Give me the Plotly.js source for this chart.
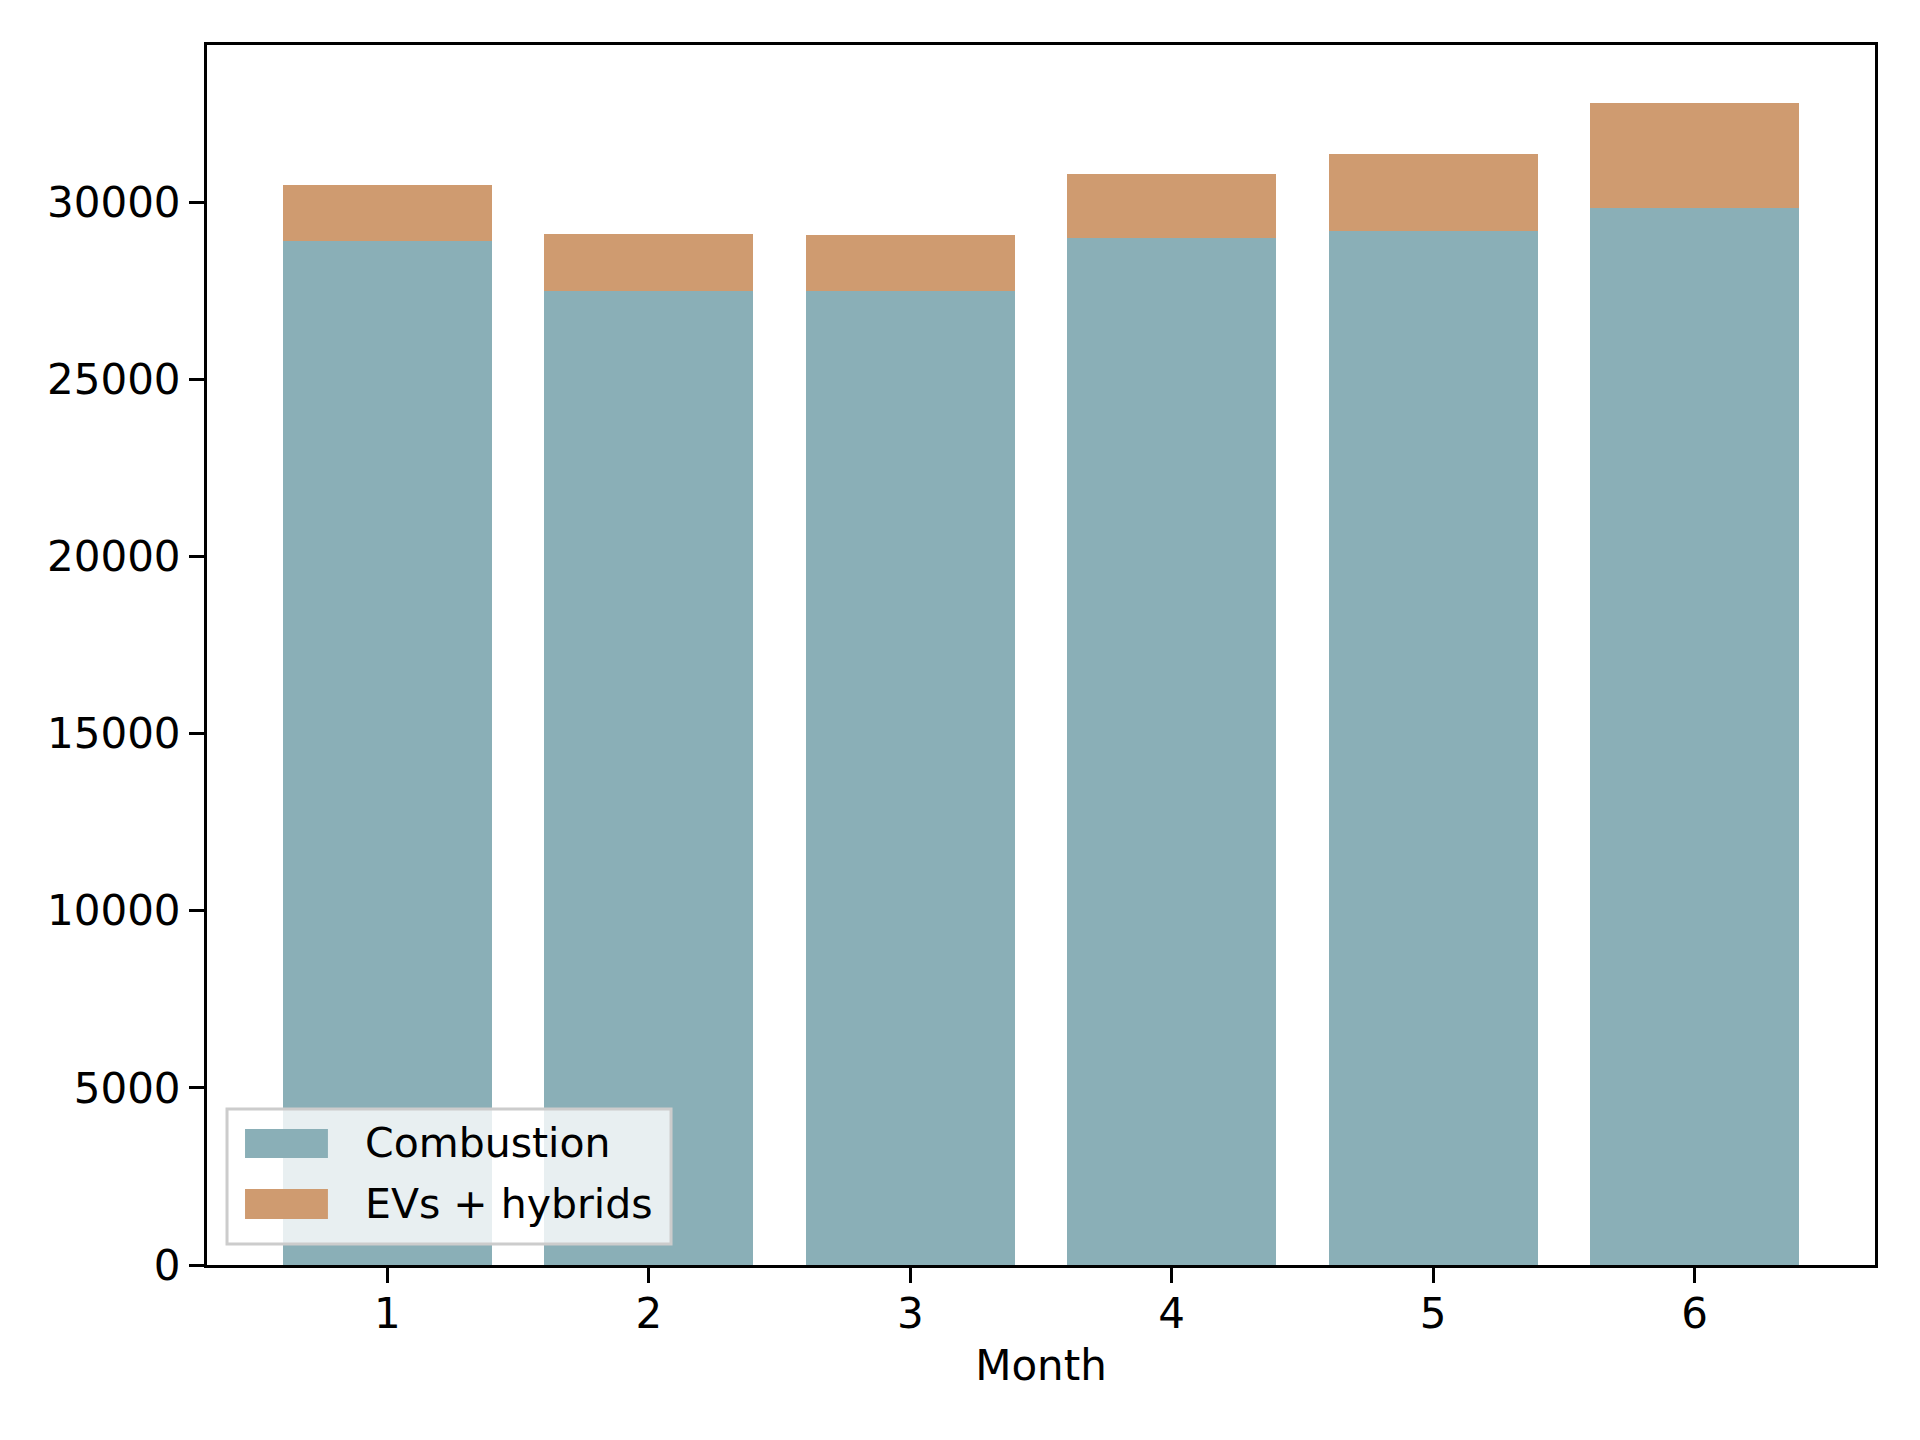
<!DOCTYPE html>
<html>
<head>
<meta charset="utf-8">
<script src="https://cdn.plot.ly/plotly-3.0.1.min.js"></script>
<style>html,body{margin:0;padding:0;background:#fff;}#chart{width:1920px;height:1440px;}</style>
</head>
<body>
<div id="chart"></div>
<script>
const months = [1, 2, 3, 4, 5, 6];
const combustion = [28900, 27500, 27500, 29000, 29200, 29850];
const evsHybrids = [1600, 1600, 1580, 1800, 2150, 2950];
const yTicks = [0, 5000, 10000, 15000, 20000, 25000, 30000];
const seriesNames = ['Combustion', 'EVs + hybrids'];
const seriesColors = ['#8aafb7', '#cf9b70'];

const font = {family: 'DejaVu Sans, sans-serif', size: 42, color: '#000'};

const traces = [
  {type: 'bar', name: seriesNames[0], x: months, y: combustion, width: 0.8,
   marker: {color: seriesColors[0], line: {width: 0}}},
  {type: 'bar', name: seriesNames[1], x: months, y: evsHybrids, width: 0.8,
   marker: {color: seriesColors[1], line: {width: 0}}}
];

// matplotlib-style legend drawn with shapes + annotations (paper coords)
const legendShapes = [
  {type: 'rect', xref: 'paper', yref: 'paper', x0: 0.012, x1: 0.2782, y0: 0.0172, y1: 0.1279,
   fillcolor: 'rgba(255,255,255,0.8)', line: {color: '#cccccc', width: 3}, layer: 'above'},
  {type: 'rect', xref: 'paper', yref: 'paper', x0: 0.0228, x1: 0.0725, y0: 0.0877, y1: 0.1115,
   fillcolor: seriesColors[0], line: {width: 0}, layer: 'above'},
  {type: 'rect', xref: 'paper', yref: 'paper', x0: 0.0228, x1: 0.0725, y0: 0.0377, y1: 0.0623,
   fillcolor: seriesColors[1], line: {width: 0}, layer: 'above'}
];
const legendAnnotations = [
  {xref: 'paper', yref: 'paper', x: 0.0935, y: 0.0996, xanchor: 'left', yanchor: 'middle',
   text: seriesNames[0], showarrow: false, font: {family: 'DejaVu Sans, sans-serif', size: 41, color: '#000'}},
  {xref: 'paper', yref: 'paper', x: 0.0935, y: 0.0500, xanchor: 'left', yanchor: 'middle',
   text: seriesNames[1], showarrow: false, font: {family: 'DejaVu Sans, sans-serif', size: 41, color: '#000'}}
];

const layout = {
  width: 1920, height: 1440,
  barmode: 'stack',
  paper_bgcolor: '#fff', plot_bgcolor: '#fff',
  font: font,
  margin: {l: 207, r: 45, t: 45, b: 175, pad: 0},
  showlegend: false,
  shapes: legendShapes,
  annotations: legendAnnotations,
  xaxis: {
    range: [0.31, 6.69], tickmode: 'array', tickvals: months, ticktext: months.map(String),
    showgrid: false, zeroline: false,
    showline: true, linecolor: '#000', linewidth: 3, mirror: true,
    ticks: 'outside', ticklen: 15, tickwidth: 3, tickcolor: '#000',
    tickfont: font, ticklabelstandoff: -5,
    title: {text: 'Month', font: font, standoff: 14}
  },
  yaxis: {
    range: [0, 34440], tickmode: 'array', tickvals: yTicks, ticktext: yTicks.map(String),
    showgrid: false, zeroline: false,
    showline: true, linecolor: '#000', linewidth: 3, mirror: true,
    ticks: 'outside', ticklen: 15, tickwidth: 3, tickcolor: '#000',
    tickfont: font
  }
};

Plotly.newPlot('chart', traces, layout, {displayModeBar: false, staticPlot: true});
</script>
</body>
</html>
